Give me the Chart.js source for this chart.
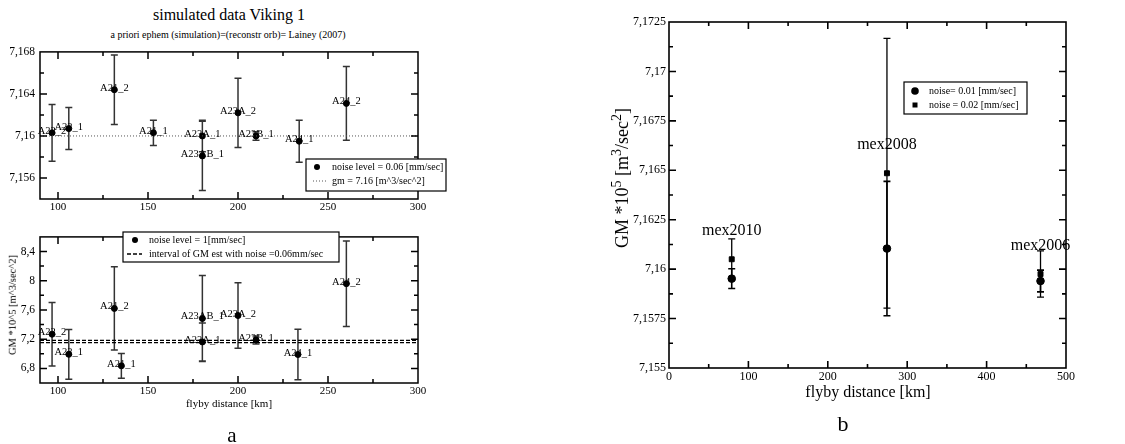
<!DOCTYPE html>
<html>
<head>
<meta charset="utf-8">
<title>GM flyby estimates</title>
<script src="https://cdn.jsdelivr.net/npm/chart.js@4.4.1/dist/chart.umd.min.js"></script>
<style>
  body { margin: 0; width: 1125px; height: 444px; background: #fff; position: relative; overflow: hidden; font-family: "Liberation Serif", "DejaVu Serif", serif; color: #000; }
  canvas { position: absolute; }
  .txt { position: absolute; white-space: nowrap; transform: translate(-50%, -50%); line-height: 1; }
  .rot { transform: translate(-50%, -50%) rotate(-90deg); }
  sup { font-size: 78%; vertical-align: 0.5em; line-height: 0; }
</style>
</head>
<body>

<div class="txt" style="left:229px;top:15px;font-size:16px">simulated data Viking 1</div>
<div class="txt" style="left:228px;top:35px;font-size:10px">a priori ephem (simulation)=(reconstr orb)= Lainey (2007)</div>
<canvas id="vikingLow" width="460" height="180" style="left:0;top:40px"></canvas>

<canvas id="vikingHigh" width="460" height="180" style="left:0;top:225px"></canvas>
<div class="txt rot" style="left:13px;top:305px;font-size:10.5px">GM *10^5 [m^3/sec^2]</div>
<div class="txt" style="left:229px;top:403px;font-size:11px">flyby distance [km]</div>
<div class="txt" style="left:232px;top:435px;font-size:21px">a</div>

<canvas id="mexChart" width="491" height="385" style="left:629px;top:0"></canvas>
<div class="txt rot" style="left:622px;top:178px;font-size:18px">GM *10<sup>5</sup> [m<sup>3</sup>/sec<sup>2</sup>]</div>
<div class="txt" style="left:868px;top:392px;font-size:16px">flyby distance [km]</div>
<div class="txt" style="left:843px;top:424px;font-size:22px">b</div>

<script>
// ---- data: Viking 1 flybys, noise 0.06 mm/sec (upper panel a)
const flybyNames = ['A22_2', 'A22_1', 'A21_2', 'A21_1', 'A23A_1', 'A23AB_1', 'A23A_2', 'A23B_1', 'A24_1', 'A24_2'];
const distLowNoise = [96.7, 106, 131.3, 153, 180.2, 180.2, 200, 210, 234, 260.2];
const gmLowNoise = [7.1603, 7.1607, 7.1644, 7.1603, 7.1600, 7.1581, 7.1622, 7.1600, 7.1595, 7.1631];
const errLowNoise = [0.0027, 0.002, 0.0033, 0.0012, 0.0015, 0.0033, 0.0033, 0.0004, 0.002, 0.0035];
const gmReference = 7.16;

// ---- data: Viking 1 flybys, noise 1 mm/sec (lower panel a)
const distHighNoise = [96.7, 106, 131.3, 135.2, 180.2, 180.2, 200, 210, 233.3, 260.2];
const gmHighNoise = [7.268, 6.993, 7.621, 6.835, 7.162, 7.483, 7.524, 7.188, 6.99, 7.96];
const errHighNoise = [0.435, 0.34, 0.57, 0.17, 0.26, 0.59, 0.45, 0.055, 0.345, 0.585];
const gmInterval = [7.153, 7.184];

// ---- data: Mars Express flybys (panel b)
const mexNames = ['mex2010', 'mex2008', 'mex2006'];
const mexDist = [79, 274.5, 467.9];
const gmNoise001 = [7.15952, 7.16104, 7.1594];
const errNoise001 = [0.0005, 0.0034, 0.00055];
const gmNoise002 = [7.1605, 7.16485, 7.15975];
const errNoise002 = [0.00103, 0.00682, 0.00117];

// ---- axes
const xRangeA = [90, 300];
const xTicksA = [100, 150, 200, 250, 300];
const yRangeLow = [7.154, 7.168];
const yTicksLow = [7.156, 7.16, 7.164, 7.168];
const yRangeHigh = [6.6, 8.6];
const yTicksHigh = [6.8, 7.2, 7.6, 8, 8.4];
const xRangeB = [0, 500];
const xTicksB = [0, 100, 200, 300, 400, 500];
const yRangeB = [7.155, 7.1725];
const yTicksB = [7.155, 7.1575, 7.16, 7.1625, 7.165, 7.1675, 7.17, 7.1725];

const SERIF = '"Liberation Serif", "DejaVu Serif", serif';

function commaNum(v) {
  return String(+v.toFixed(5)).replace('.', ',');
}

function points(xs, ys) {
  return xs.map((x, i) => ({ x: x, y: ys[i] }));
}

// midpoints between majors, used for the small inward ticks
function minorTicks(major, range) {
  const step = major[1] - major[0];
  const out = [major[0] - step / 2];
  major.forEach(v => out.push(v + step / 2));
  return out.filter(v => v > range[0] + 1e-9 && v < range[1] - 1e-9);
}

// box + inward ticks on all four sides
const frameTicks = {
  id: 'frameTicks',
  afterDraw(chart, args, opts) {
    const { ctx, chartArea: a } = chart;
    const xs = chart.scales.x, ys = chart.scales.y;
    ctx.save();
    ctx.strokeStyle = '#000';
    ctx.lineWidth = opts.lineWidth || 1.5;
    ctx.beginPath();
    const drawX = (vals, len) => vals.forEach(v => {
      const p = xs.getPixelForValue(v);
      if (p <= a.left + 1 || p >= a.right - 1) return;
      ctx.moveTo(p, a.bottom); ctx.lineTo(p, a.bottom - len);
      ctx.moveTo(p, a.top); ctx.lineTo(p, a.top + len);
    });
    const drawY = (vals, len) => vals.forEach(v => {
      const p = ys.getPixelForValue(v);
      if (p <= a.top + 1 || p >= a.bottom - 1) return;
      ctx.moveTo(a.left, p); ctx.lineTo(a.left + len, p);
      ctx.moveTo(a.right, p); ctx.lineTo(a.right - len, p);
    });
    drawX(opts.xMajor, 7);
    drawX(minorTicks(opts.xMajor, [xs.min, xs.max]), 4);
    drawY(opts.yMajor, 7);
    drawY(minorTicks(opts.yMajor, [ys.min, ys.max]), 4);
    ctx.stroke();
    ctx.strokeRect(a.left, a.top, a.right - a.left, a.bottom - a.top);
    ctx.restore();
  }
};

// vertical error bars with caps, under the markers
const errorBars = {
  id: 'errorBars',
  beforeDatasetsDraw(chart) {
    const { ctx } = chart;
    const xs = chart.scales.x, ys = chart.scales.y;
    chart.data.datasets.forEach(ds => {
      if (!ds.errors) return;
      ctx.save();
      ctx.strokeStyle = ds.errorColor || '#000';
      ctx.lineWidth = ds.errorWidth || 1.5;
      ctx.beginPath();
      ds.data.forEach((d, i) => {
        const px = xs.getPixelForValue(d.x);
        const top = ys.getPixelForValue(d.y + ds.errors[i]);
        const bot = ys.getPixelForValue(d.y - ds.errors[i]);
        const c = ds.capHalf || 3.5;
        ctx.moveTo(px, top); ctx.lineTo(px, bot);
        ctx.moveTo(px - c, top); ctx.lineTo(px + c, top);
        ctx.moveTo(px - c, bot); ctx.lineTo(px + c, bot);
      });
      ctx.stroke();
      ctx.restore();
    });
  }
};

// point name annotations
const pointNames = {
  id: 'pointNames',
  afterDatasetsDraw(chart) {
    const { ctx } = chart;
    chart.data.datasets.forEach((ds, di) => {
      if (!ds.names) return;
      const meta = chart.getDatasetMeta(di);
      ctx.save();
      ctx.font = ds.nameFont;
      ctx.fillStyle = '#000';
      ctx.textAlign = 'center';
      ctx.textBaseline = 'alphabetic';
      meta.data.forEach((pt, i) => ctx.fillText(ds.names[i], pt.x, pt.y + ds.nameDy));
      ctx.restore();
    });
  }
};

// boxed legend like the original xmgrace one
const boxLegend = {
  id: 'boxLegend',
  afterDraw(chart, args, opts) {
    if (!opts.box) return;
    const { ctx } = chart;
    const [bx, by, bw, bh] = opts.box;
    ctx.save();
    ctx.fillStyle = '#fff';
    ctx.fillRect(bx, by, bw, bh);
    ctx.strokeStyle = '#000';
    ctx.lineWidth = 1.2;
    ctx.strokeRect(bx, by, bw, bh);
    ctx.font = opts.font;
    ctx.textBaseline = 'middle';
    opts.items.forEach(it => {
      ctx.fillStyle = '#000';
      ctx.strokeStyle = it.color || '#000';
      if (it.marker === 'circle') {
        ctx.beginPath(); ctx.arc(it.x, it.y, it.r, 0, Math.PI * 2); ctx.fill();
      } else if (it.marker === 'rect') {
        ctx.fillRect(it.x - it.r, it.y - it.r, it.r * 2, it.r * 2);
      } else {
        ctx.lineWidth = it.lineWidth;
        ctx.setLineDash(it.dash);
        ctx.beginPath(); ctx.moveTo(it.x, it.y); ctx.lineTo(it.x2, it.y); ctx.stroke();
        ctx.setLineDash([]);
      }
      ctx.fillStyle = '#000';
      ctx.fillText(it.text, it.tx, it.y + 0.5);
    });
    ctx.restore();
  }
};

Chart.register(frameTicks, errorBars, pointNames, boxLegend);

function makeScales(xRange, xTicks, yRange, yTicks, yWidth, xHeight, fontX, fontY, padX, padY) {
  return {
    x: {
      type: 'linear', min: xRange[0], max: xRange[1],
      afterBuildTicks: s => { s.ticks = xTicks.map(v => ({ value: v })); },
      afterFit: s => { s.height = xHeight; },
      grid: { display: false, drawTicks: false },
      border: { display: false },
      ticks: { color: '#000', font: { family: SERIF, size: fontX }, padding: padX, maxRotation: 0, callback: v => commaNum(v) }
    },
    y: {
      type: 'linear', min: yRange[0], max: yRange[1],
      afterBuildTicks: s => { s.ticks = yTicks.map(v => ({ value: v })); },
      afterFit: s => { s.width = yWidth; },
      grid: { display: false, drawTicks: false },
      border: { display: false },
      ticks: { color: '#000', font: { family: SERIF, size: fontY }, padding: padY, callback: v => commaNum(v) }
    }
  };
}

const baseOptions = {
  responsive: false,
  animation: false,
  events: [],
  plugins: { legend: { display: false }, tooltip: { enabled: false } }
};

// upper panel a
new Chart(document.getElementById('vikingLow'), {
  type: 'scatter',
  data: {
    datasets: [
      {
        type: 'line',
        data: points(xRangeA, [gmReference, gmReference]),
        borderColor: '#555', borderWidth: 1, borderDash: [1, 2], pointRadius: 0
      },
      {
        data: points(distLowNoise, gmLowNoise),
        errors: errLowNoise, errorColor: '#333', errorWidth: 1.5, capHalf: 3.5,
        names: flybyNames, nameFont: '10.5px ' + SERIF, nameDy: 1,
        backgroundColor: '#000', borderColor: '#000', pointRadius: 3, pointStyle: 'circle'
      }
    ]
  },
  options: Object.assign({}, baseOptions, {
    layout: { padding: { top: 7, right: 42, left: 0, bottom: 0 } },
    scales: makeScales(xRangeA, xTicksA, yRangeLow, yTicksLow, 40, 21, 11, 11.5, 2, 5),
    plugins: Object.assign({}, baseOptions.plugins, {
      frameTicks: { xMajor: xTicksA, yMajor: yTicksLow },
      boxLegend: {
        box: [306, 119, 140, 32], font: '10px ' + SERIF,
        items: [
          { marker: 'circle', x: 317, y: 127, r: 3, tx: 332, text: 'noise level = 0.06 [mm/sec]' },
          { marker: 'line', x: 313, x2: 328, y: 141, lineWidth: 1, dash: [1, 2], color: '#555', tx: 332, text: 'gm = 7.16 [m^3/sec^2]' }
        ]
      }
    })
  })
});

// lower panel a
new Chart(document.getElementById('vikingHigh'), {
  type: 'scatter',
  data: {
    datasets: [
      {
        type: 'line',
        data: points(xRangeA, [gmInterval[0], gmInterval[0]]),
        borderColor: '#000', borderWidth: 1.3, borderDash: [4, 2], pointRadius: 0
      },
      {
        type: 'line',
        data: points(xRangeA, [gmInterval[1], gmInterval[1]]),
        borderColor: '#000', borderWidth: 1.3, borderDash: [4, 2], pointRadius: 0
      },
      {
        data: points(distHighNoise, gmHighNoise),
        errors: errHighNoise, errorColor: '#333', errorWidth: 1.5, capHalf: 3.5,
        names: flybyNames, nameFont: '10.5px ' + SERIF, nameDy: 1,
        backgroundColor: '#000', borderColor: '#000', pointRadius: 3, pointStyle: 'circle'
      }
    ]
  },
  options: Object.assign({}, baseOptions, {
    layout: { padding: { top: 7, right: 42, left: 0, bottom: 0 } },
    scales: makeScales(xRangeA, xTicksA, yRangeHigh, yTicksHigh, 40, 22, 11, 11.5, 2, 5),
    plugins: Object.assign({}, baseOptions.plugins, {
      frameTicks: { xMajor: xTicksA, yMajor: yTicksHigh },
      boxLegend: {
        box: [123, 7, 216, 30], font: '10px ' + SERIF,
        items: [
          { marker: 'circle', x: 135, y: 15, r: 3, tx: 149, text: 'noise level = 1[mm/sec]' },
          { marker: 'line', x: 127, x2: 142, y: 29, lineWidth: 1.3, dash: [4, 2], tx: 149, text: 'interval of GM est with noise =0.06mm/sec' }
        ]
      }
    })
  })
});

// panel b
new Chart(document.getElementById('mexChart'), {
  type: 'scatter',
  data: {
    datasets: [
      {
        data: points(mexDist, gmNoise002),
        errors: errNoise002, errorColor: '#000', errorWidth: 1.3, capHalf: 3.5,
        names: mexNames, nameFont: '16px ' + SERIF, nameDy: -24,
        backgroundColor: '#000', borderColor: '#000', pointRadius: 3.5, pointStyle: 'rect'
      },
      {
        data: points(mexDist, gmNoise001),
        errors: errNoise001, errorColor: '#000', errorWidth: 1.6, capHalf: 3.5,
        backgroundColor: '#000', borderColor: '#000', pointRadius: 3.8, pointStyle: 'circle'
      }
    ]
  },
  options: Object.assign({}, baseOptions, {
    layout: { padding: { top: 22, right: 54, left: 0, bottom: 0 } },
    scales: makeScales(xRangeB, xTicksB, yRangeB, yTicksB, 40, 17, 12, 12, 2, 3),
    plugins: Object.assign({}, baseOptions.plugins, {
      frameTicks: { xMajor: xTicksB, yMajor: yTicksB, lineWidth: 1.6 },
      boxLegend: {
        box: [275, 82, 123, 32], font: '10px ' + SERIF,
        items: [
          { marker: 'circle', x: 286, y: 91, r: 3.8, tx: 300, text: 'noise= 0.01 [mm/sec]' },
          { marker: 'rect', x: 286, y: 105, r: 2.5, tx: 300, text: 'noise = 0.02 [mm/sec]' }
        ]
      }
    })
  })
});
</script>
</body>
</html>
